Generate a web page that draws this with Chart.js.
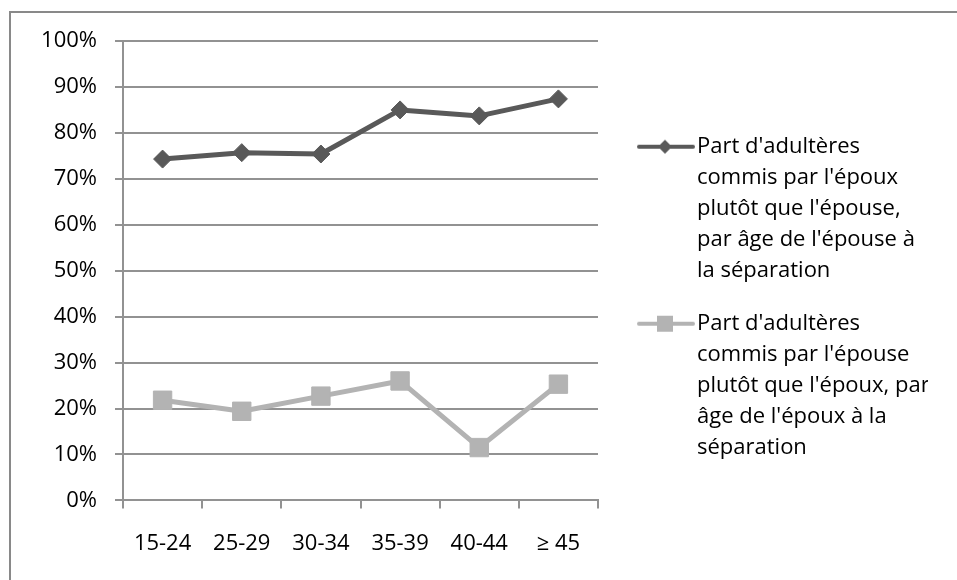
<!DOCTYPE html>
<html>
<head>
<meta charset="utf-8">
<script src="https://cdn.jsdelivr.net/npm/chart.js@4"></script>
<style>
html, body { margin: 0; padding: 0; background: #ffffff; }
#wrap { width: 957px; height: 580px; position: relative; }
</style>
</head>
<body>
<div id="wrap"><canvas id="c" width="957" height="580"></canvas></div>
<script>
// ---- data ----
const categories = ['15-24', '25-29', '30-34', '35-39', '40-44', '≥ 45'];
const husbandShare = [74.3, 75.7, 75.4, 85.0, 83.7, 87.4];
const wifeShare = [21.8, 19.4, 22.7, 26.0, 11.5, 25.3];
const husbandLegend = ["Part d'adultères", "commis par l'époux", "plutôt que l'épouse,", "par âge de l'épouse à", "la séparation"];
const wifeLegend = ["Part d'adultères", "commis par l'épouse", "plutôt que l'époux, par", "âge de l'époux à la", "séparation"];
const yMin = 0, yMax = 100, yStep = 10;

// ---- styles ----
const darkGray = '#595959';
const lightGray = '#b3b3b3';
const gridColor = '#929292';
const FONT = '"Open Sans", "DejaVu Sans", sans-serif';

function legendImage(color, shape) {
  const cv = document.createElement('canvas');
  cv.width = 84; cv.height = 24;
  const g = cv.getContext('2d');
  g.strokeStyle = color; g.lineWidth = 4; g.lineCap = 'round';
  g.beginPath(); g.moveTo(28, 12); g.lineTo(82, 12); g.stroke();
  g.fillStyle = color;
  if (shape === 'diamond') {
    g.beginPath(); g.moveTo(47, 12); g.lineTo(54, 5); g.lineTo(61, 12); g.lineTo(54, 19); g.closePath(); g.fill();
  } else {
    g.fillRect(46, 4, 16, 16);
  }
  return cv;
}
const legendImgs = [legendImage(darkGray, 'diamond'), legendImage(lightGray, 'square')];
const legendTexts = [husbandLegend, wifeLegend];

const framePlugin = {
  id: 'frame',
  beforeDraw(chart) {
    const c = chart.ctx;
    c.save();
    c.strokeStyle = '#898989';
    c.lineWidth = 2;
    c.strokeRect(10, 12, 1200, 1200);
    c.restore();
  }
};

new Chart(document.getElementById('c'), {
  type: 'line',
  data: {
    labels: categories,
    datasets: [
      {
        label: husbandLegend.join(' '),
        data: husbandShare,
        borderColor: darkGray, backgroundColor: darkGray,
        borderWidth: 5, tension: 0, borderJoinStyle: 'round',
        pointStyle: 'rectRot', pointRadius: 9, pointBorderWidth: 1,
        pointBackgroundColor: darkGray, pointBorderColor: darkGray
      },
      {
        label: wifeLegend.join(' '),
        data: wifeShare,
        borderColor: lightGray, backgroundColor: lightGray,
        borderWidth: 5, tension: 0, borderJoinStyle: 'round',
        pointStyle: 'rect', pointRadius: 13, pointBorderWidth: 1,
        pointBackgroundColor: lightGray, pointBorderColor: lightGray
      }
    ]
  },
  options: {
    responsive: false,
    animation: false,
    devicePixelRatio: 1,
    layout: { padding: { left: 10, top: 41, right: 29, bottom: 17.6 } },
    plugins: {
      tooltip: { enabled: false },
      legend: {
        position: 'right',
        align: 'center',
        maxWidth: 330,
        labels: {
          usePointStyle: true,
          pointStyleWidth: 66,
          padding: 22,
          color: '#000000',
          font: { family: FONT, size: 22, lineHeight: 31 / 22 },
          generateLabels(chart) {
            return Chart.defaults.plugins.legend.labels.generateLabels(chart).map((it, i) => {
              it.text = legendTexts[i];
              it.pointStyle = legendImgs[i];
              return it;
            });
          }
        }
      }
    },
    scales: {
      x: {
        offset: true,
        grid: { offset: true, drawOnChartArea: false, drawTicks: true, tickLength: 8, color: gridColor, lineWidth: 2 },
        border: { color: gridColor, width: 2 },
        ticks: { padding: 22, color: '#000000', font: { family: FONT, size: 22 } },
        afterFit(s) { s.height = 62; }
      },
      y: {
        min: yMin, max: yMax,
        grid: { tickLength: 8, color: gridColor, lineWidth: 2 },
        border: { color: gridColor, width: 2 },
        ticks: { stepSize: yStep, padding: 18, color: '#000000', font: { family: FONT, size: 22 }, callback: v => v + '%' },
        afterFit(s) { s.width = 113; }
      }
    }
  },
  plugins: [framePlugin]
});
</script>
</body>
</html>
